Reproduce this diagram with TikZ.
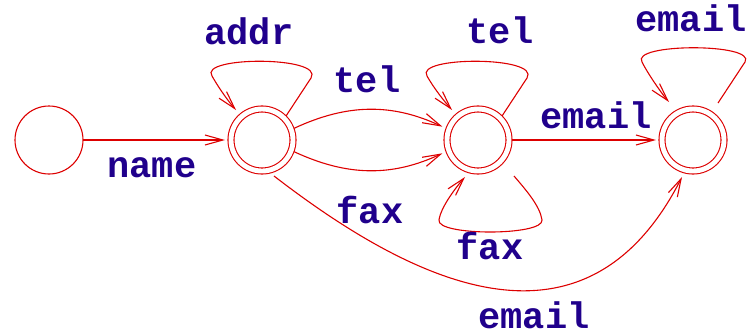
\documentclass[tikz,border=0pt]{standalone}
\usepackage{fontspec}
\setmonofont{Liberation Mono}
\usetikzlibrary{arrows.meta,calc}
\definecolor{edgered}{RGB}{221,0,0}
\definecolor{labelblue}{RGB}{32,0,140}
\begin{document}
\begin{tikzpicture}[x=1pt,y=-1pt,
  edge/.style={draw=edgered, line width=1.1pt, -{Straight Barb[length=18pt,width=10pt]}},
  plainstate/.style={circle, draw=edgered, line width=1.1pt, minimum size=68pt, inner sep=0pt, outer sep=0pt},
  finalstate/.style={circle, draw=edgered, line width=1.1pt, double, double distance=4.9pt,
    minimum size=62pt, inner sep=0pt, outer sep=3pt},
  lbl/.style={text=labelblue, font=\fontsize{37}{40}\selectfont\ttfamily\bfseries, anchor=base, inner sep=0pt}]
\useasboundingbox (0,0) rectangle (749,335);

% states
\node[plainstate] (s0) at (49,140) {};
\node[finalstate] (s1) at (262,140) {};
\node[finalstate] (s2) at (478,140) {};
\node[finalstate] (s3) at (693,140) {};

% transitions between states
\draw[edge, shorten >=3pt] (s0) -- (s1);
\draw[edge, shorten >=4pt] (s1.20) to[bend left=25] (s2.160);
\draw[edge, shorten >=4pt] (s1.-20) to[bend right=25] (s2.200);
\draw[edge, shorten >=3pt] (s2) -- (s3);
\draw[edge] ($(s1)+(12,36)$) .. controls ($(s1)+(152,144)$) and ($(s3)+(-108,227)$) .. ($(s3)+(-11,37)$);

% self loops
\draw[edge] (s1.45) -- ($(s1)+(49,-62)$)
  .. controls ($(s1)+(63,-84)$) and ($(s1)+(-64,-84)$) .. ($(s1)+(-50,-64)$)
  .. controls ($(s1)+(-42,-50)$) and ($(s1)+(-33,-38)$) .. ($(s1)+(-26,-30)$);
\draw[edge] (s2.45) -- ($(s2)+(49,-62)$)
  .. controls ($(s2)+(63,-84)$) and ($(s2)+(-64,-84)$) .. ($(s2)+(-51,-64)$)
  .. controls ($(s2)+(-43,-50)$) and ($(s2)+(-33,-38)$) .. ($(s2)+(-26,-30)$);
\draw[edge] ($(s2)+(36,36)$)
  .. controls ($(s2)+(48,50)$) and ($(s2)+(62,66)$) .. ($(s2)+(64,80)$)
  .. controls ($(s2)+(66,96)$) and ($(s2)+(-42,96)$) .. ($(s2)+(-39,80)$)
  .. controls ($(s2)+(-37,66)$) and ($(s2)+(-20,45)$) .. ($(s2)+(-13,37)$);
\draw[edge] ($(s3)+(25,-37)$) -- ($(s3)+(52,-78)$)
  .. controls ($(s3)+(64,-97)$) and ($(s3)+(-63,-97)$) .. ($(s3)+(-51,-78)$)
  .. controls ($(s3)+(-45,-66)$) and ($(s3)+(-31,-46)$) .. ($(s3)+(-24,-38)$);

% labels
\node[lbl] (lname)  at (152,177) {name};
\node[lbl] (laddr)  at (249,44)  {addr};
\node[lbl] (ltel)   at (367,92)  {tel};
\node[lbl] (ltelo)  at (500,43)  {tel};
\node[lbl] (lmail)  at (596,128) {email};
\node[lbl] (lmailo) at (691,31)  {email};
\node[lbl] (lfax)   at (370,223) {fax};
\node[lbl] (lfaxo)  at (490,259) {fax};
\node[lbl] (lmailb) at (534,328) {email};
\end{tikzpicture}
\end{document}
